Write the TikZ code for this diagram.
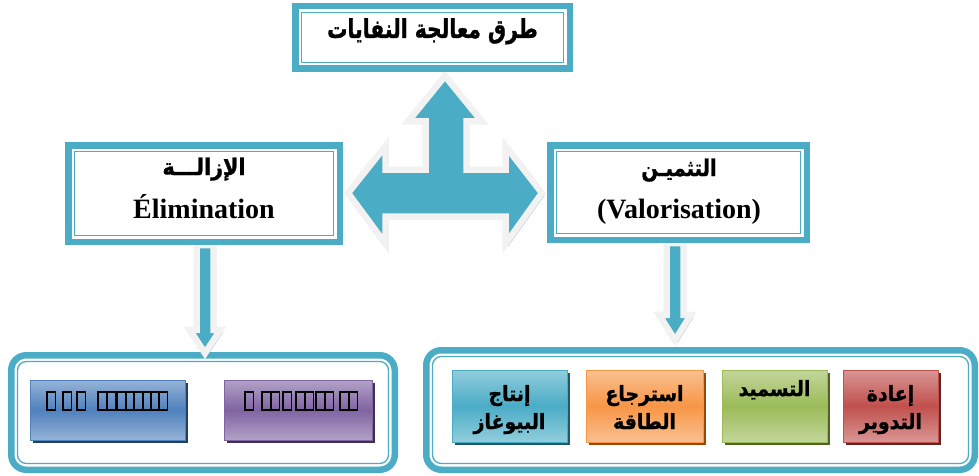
\documentclass[tikz,border=0pt]{standalone}
\usepackage{fontspec}
\usepackage{graphicx}
\setmainfont{Liberation Serif}
\newfontfamily\arabicfont[Script=Arabic, FakeBold=1.3]{DejaVu Sans Bold}
\TeXXeTstate=1
\definecolor{tealF}{HTML}{4BACC6}
\definecolor{outl}{HTML}{F2F2F2}
\definecolor{shadowc}{HTML}{8EA3AB}
\definecolor{bluL}{HTML}{95B3D7}\definecolor{bluM}{HTML}{4F81BD}\definecolor{bluD}{HTML}{243F60}
\definecolor{purL}{HTML}{B2A1C7}\definecolor{purM}{HTML}{8064A2}\definecolor{purD}{HTML}{3F3151}
\definecolor{teaL}{HTML}{92CDDC}\definecolor{teaM}{HTML}{4BACC6}\definecolor{teaD}{HTML}{215968}
\definecolor{oraL}{HTML}{FAC090}\definecolor{oraM}{HTML}{F79646}\definecolor{oraD}{HTML}{984807}
\definecolor{greL}{HTML}{C3D69B}\definecolor{greM}{HTML}{9BBB59}\definecolor{greD}{HTML}{4F6228}
\definecolor{redL}{HTML}{D99694}\definecolor{redM}{HTML}{C0504D}\definecolor{redD}{HTML}{632523}
\pgfdeclarelayer{back}\pgfdeclarelayer{mid}\pgfsetlayers{back,mid,main}
\newcommand{\artx}[2][0.9]{\scalebox{#1}[1]{\beginR #2\endR}}
\begin{document}
\begin{tikzpicture}[x=1pt,y=-1pt,
  frame/.style={rectangle, draw=tealF, line width=6.5pt, fill=white, inner sep=0pt,
    path picture={\draw[tealF,line width=1.3pt]
      ([shift={(6.2pt,6.2pt)}]path picture bounding box.south west) rectangle
      ([shift={(-6.2pt,-6.2pt)}]path picture bounding box.north east);}},
  rframe/.style={rectangle, rounded corners=15pt, draw=tealF, line width=6.5pt, fill=white, inner sep=0pt,
    path picture={\draw[tealF,line width=1.3pt,rounded corners=9pt]
      ([shift={(6.2pt,6.2pt)}]path picture bounding box.south west) rectangle
      ([shift={(-6.2pt,-6.2pt)}]path picture bounding box.north east);}},
  gbox/.style={rectangle, inner sep=0pt, top color=#1L, bottom color=#1L, middle color=#1M,
    draw=#1M, line width=1pt,
    preaction={fill=#1D, transform canvas={shift={(3pt,-3pt)}}}},
  barrow/.style={fill=tealF, draw=outl, line width=6.5pt, line join=miter, miter limit=10},
  bshadow/.style={fill=shadowc},
  artitle/.style={font=\arabicfont\fontsize{26}{30}\selectfont, inner sep=0pt, anchor=base},
  arside/.style={font=\arabicfont\fontsize{23}{27}\selectfont, inner sep=0pt, anchor=base},
  latside/.style={font=\bfseries\fontsize{28}{32}\selectfont, inner sep=0pt, anchor=base},
  arbox/.style={font=\arabicfont\fontsize{21}{25}\selectfont, inner sep=0pt, anchor=base},
  tofu/.style={draw=black, line width=1.3pt}
]
\useasboundingbox (0,0) rectangle (979,476);

% containers (back layer)
\begin{pgfonlayer}{back}
\node[rframe, minimum width=383.5pt, minimum height=114.5pt] (CL) at (203,412.5) {};
\node[rframe, minimum width=548.5pt, minimum height=119.5pt] (CR) at (700.5,410) {};
\end{pgfonlayer}

% top frames
\node[frame, minimum width=274.5pt, minimum height=62.5pt] (T) at (432.5,37.5) {};
\node[frame, minimum width=271.5pt, minimum height=96.5pt] (L) at (204,193.5) {};
\node[frame, minimum width=256.5pt, minimum height=94.5pt] (R) at (678.5,192.5) {};

% arrows (mid layer)
\begin{pgfonlayer}{mid}
\begin{scope}[shift={(2.5,2.5)}]
\fill[bshadow] (445,76) -- (482,121.5) -- (466.5,121.5) -- (466.5,169.5) -- (505.5,169.5) -- (505.5,146)
  -- (542,193) -- (505.5,244) -- (505.5,216.5) -- (385.5,216.5) -- (385.5,244) -- (348,193)
  -- (385.5,146) -- (385.5,169.5) -- (425.5,169.5) -- (425.5,121.5) -- (408,121.5) -- cycle;
\end{scope}
\draw[barrow] (445,76) -- (482,121.5) -- (466.5,121.5) -- (466.5,169.5) -- (505.5,169.5) -- (505.5,146)
  -- (542,193) -- (505.5,244) -- (505.5,216.5) -- (385.5,216.5) -- (385.5,244) -- (348,193)
  -- (385.5,146) -- (385.5,169.5) -- (425.5,169.5) -- (425.5,121.5) -- (408,121.5) -- cycle;
% left down arrow
\begin{scope}[shift={(L.south)}]
\fill[bshadow] (3.5,2.5) -- (3.5,87.25) -- (-13,87.25) -- (3.5,110.75) -- (19,87.25) -- (12,87.25) -- (12,2.5) -- cycle;
\draw[barrow] (-7.5,0) -- (-7.5,84.75) -- (-14.5,84.75) -- (1,108.25) -- (16.5,84.75) -- (9.5,84.75) -- (9.5,0) -- cycle;
\end{scope}
% right down arrow
\begin{scope}[shift={(R.south)}]
\fill[bshadow] (-9.5,2.5) -- (-9.5,74.25) -- (-17,74.25) -- (-1,99.75) -- (15,74.25) -- (7.5,74.25) -- (7.5,2.5) -- cycle;
\draw[barrow] (-12,0) -- (-12,71.75) -- (-19.5,71.75) -- (-3.5,97.25) -- (12.5,71.75) -- (5,71.75) -- (5,0) -- cycle;
\end{scope}
\end{pgfonlayer}

% inner boxes
\node[gbox=blu, minimum width=155pt, minimum height=60pt] (B1) at (107.5,410) {};
\node[gbox=pur, minimum width=148pt, minimum height=60pt] (B2) at (298,410) {};
\node[gbox=tea, minimum width=115pt, minimum height=72pt] (V1) at (509.5,406) {};
\node[gbox=ora, minimum width=117pt, minimum height=72pt] (V2) at (644.5,406) {};
\node[gbox=gre, minimum width=105pt, minimum height=72pt] (V3) at (774.5,406) {};
\node[gbox=red, minimum width=95pt, minimum height=72pt] (V4) at (890.5,406) {};

% missing-glyph boxes
\foreach \x in {47,63,77,98,107,117,126,134,143,151,159} {\draw[tofu] (\x,392) rectangle +(8.5,18);}
\foreach \x in {245,262,271,283,296,305,316,325,340,349} {\draw[tofu] (\x,392) rectangle +(8.5,18);}

% texts
\node[artitle] (tT) at (432.5,38) {\artx[0.78]{طرق معالجة النفايات}};
\node[arside] (tL1) at (204,175) {\artx{الإزالـــة}};
\node[latside] (tL2) at (204,218) {Élimination};
\node[arside] (tR1) at (679,176) {\artx[0.85]{التثميـن}};
\node[latside] (tR2) at (679,218) {(Valorisation)};
\node[arbox] (tV1a) at (509.5,401) {\artx{إنتاج}};
\node[arbox] (tV1b) at (509.5,429) {\artx{البيوغاز}};
\node[arbox] (tV2a) at (644.5,401) {\artx{استرجاع}};
\node[arbox] (tV2b) at (644.5,429) {\artx{الطاقة}};
\node[arbox] (tV3) at (774.5,396) {\artx{التسميد}};
\node[arbox] (tV4a) at (890.5,401) {\artx{إعادة}};
\node[arbox] (tV4b) at (890.5,429) {\artx{التدوير}};
\end{tikzpicture}
\end{document}
